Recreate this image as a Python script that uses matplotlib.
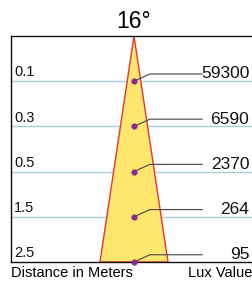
import matplotlib
matplotlib.use("Agg")
import matplotlib.pyplot as plt
import numpy as np

plt.rcParams['font.family'] = ['Liberation Sans', 'DejaVu Sans']

title = "16°"
distances = ["0.1", "0.3", "0.5", "1.5", "2.5"]
lux = [59300, 6590, 2370, 264, 95]
xlabel = "Distance in Meters"
rlabel = "Lux Value"

W, H = 253, 282
fig = plt.figure(figsize=(W / 100, H / 100), dpi=100)
L, R, T, B = 11, 253, 36, 262
ax = fig.add_axes([L / W, (H - B) / H, (R - L) / W, (B - T) / H])
n = len(distances)
ax.set_xlim(0, 1)
ax.set_ylim(n, 0)

apex = (134 - L) / (R - L)
half = 34 / (R - L)
ax.fill([apex, apex - half, apex + half], [0, n, n], facecolor="#FFE76F",
        edgecolor="#E8352E", linewidth=1.0, zorder=2)

rows = np.arange(1, n + 1)
for r, d, v in zip(rows, distances, lux):
    if r < n:
        ax.axhline(r, color="#A9CEDF", linewidth=1.0, zorder=1)
    ax.text(0.012, r - 0.04, d, ha="left", va="bottom", fontsize=10.5, color="#111111")
    ax.plot([apex, 0.574, 0.79], [r, r - 0.16, r - 0.16], color="#444444",
            linewidth=0.8, zorder=3)
    ax.text(0.985, r - 0.16, str(v), ha="right", va="center", fontsize=12.5, color="#111111")
ax.scatter([apex] * n, rows, s=12, color="#8E2A8E", zorder=4, clip_on=False)

for s in ["left", "top", "bottom"]:
    ax.spines[s].set_color("#111111")
    ax.spines[s].set_linewidth(1.0)
ax.spines["right"].set_visible(False)
ax.set_xticks([])
ax.set_yticks([])

fig.text(134 / W, 1 - 21 / H, title, ha="center", va="center", fontsize=16.5)
fig.text(11 / W, 1 - 273 / H, xlabel, ha="left", va="center", fontsize=10.5)
fig.text(252 / W, 1 - 273 / H, rlabel, ha="right", va="center", fontsize=10.5)

fig.savefig("out.png", dpi=100)
